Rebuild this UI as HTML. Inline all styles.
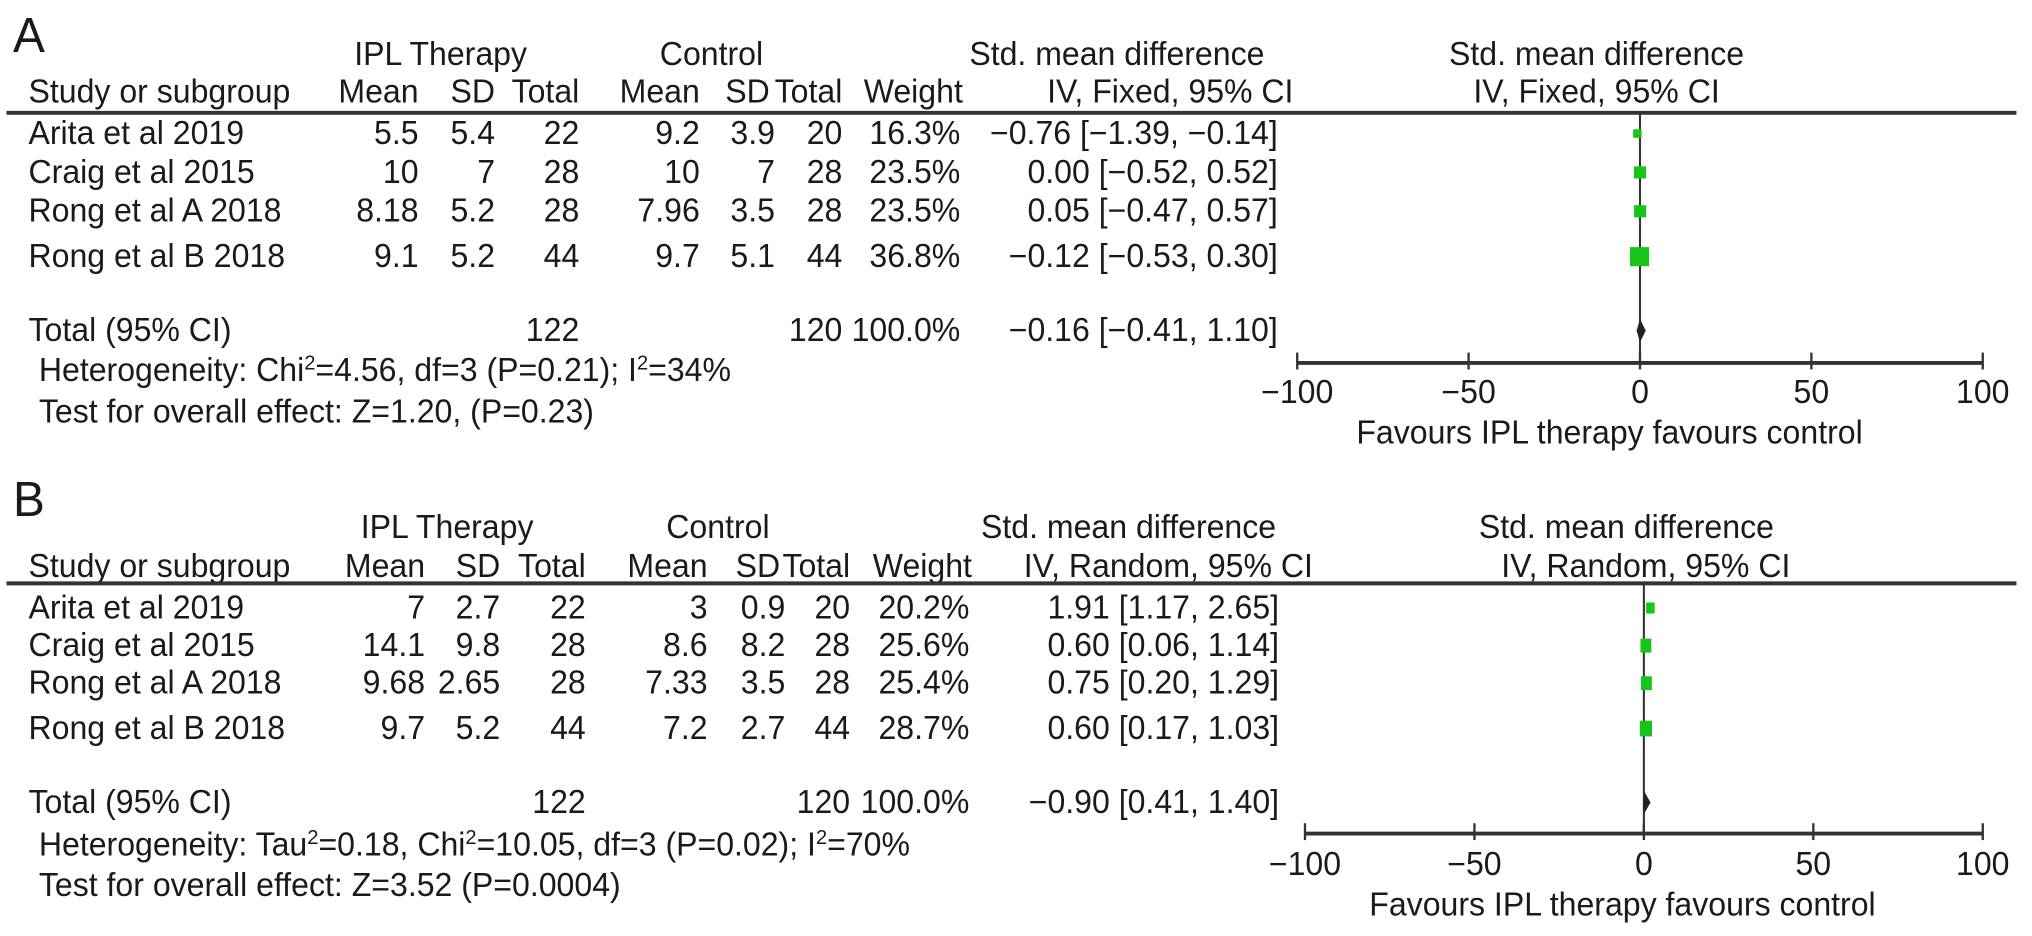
<!DOCTYPE html>
<html><head><meta charset="utf-8"><style>
html,body{margin:0;padding:0;background:#fff;overflow:hidden;}
svg{display:block;}
text{font-family:"Liberation Sans",Arial,sans-serif;font-size:25.5px;fill:#1a1a1a;}
</style></head><body>
<svg id="chart" width="2032" height="936" viewBox="0 0 1568 722" preserveAspectRatio="none" xmlns="http://www.w3.org/2000/svg"></svg>
<script>
const studies = ["Arita et al 2019","Craig et al 2015","Rong et al A 2018","Rong et al B 2018"];
// Panel A
const aIplMean = ["5.5","10","8.18","9.1"];
const aIplSD = ["5.4","7","5.2","5.2"];
const aIplN = [22,28,28,44];
const aCtlMean = ["9.2","10","7.96","9.7"];
const aCtlSD = ["3.9","7","3.5","5.1"];
const aCtlN = [20,28,28,44];
const aWeight = [16.3,23.5,23.5,36.8];
const aEst = [-0.76,0.00,0.05,-0.12];
const aLo = [-1.39,-0.52,-0.47,-0.53];
const aHi = [-0.14,0.52,0.57,0.30];
const aTotal = {est:-0.16, lo:-0.41, hi:1.10};
// Panel B
const bIplMean = ["7","14.1","9.68","9.7"];
const bIplSD = ["2.7","9.8","2.65","5.2"];
const bIplN = [22,28,28,44];
const bCtlMean = ["3","8.6","7.33","7.2"];
const bCtlSD = ["0.9","8.2","3.5","2.7"];
const bCtlN = [20,28,28,44];
const bWeight = [20.2,25.6,25.4,28.7];
const bEst = [1.91,0.60,0.75,0.60];
const bLo = [1.17,0.06,0.20,0.17];
const bHi = [2.65,1.14,1.29,1.03];
const bTotal = {est:-0.90, lo:0.41, hi:1.40};
const axisTicks = [-100,-50,0,50,100];

const NS="http://www.w3.org/2000/svg";
const svg=document.getElementById('chart');
const SX=0.97;
function el(tag,attrs,parent){const e=document.createElementNS(NS,tag);for(const k in attrs)e.setAttribute(k,attrs[k]);(parent||svg).appendChild(e);return e;}
function txt(x,y,s,anchor,name,size){const t=el('text',{x:x/SX,y:y,'text-anchor':anchor||'start',transform:'scale('+SX+',1)'});if(size)t.style.fontSize=size+'px';t.textContent=s;


return t;}
function fmt(v){return (v<0?'\u2212':'')+Math.abs(v).toFixed(2);}
function ci(e,l,h){return fmt(e)+' ['+fmt(l)+', '+fmt(h)+']';}

function panel(o){
  const g=el('g',{});
  
  
  const Y=o.y;
  const t=(x,y,s,a,n,sz)=>{const e=txt(x,y,s,a,n,sz);g.appendChild(e);return e;};
  t(10,Y.letter,o.letter,'start','panel-letter',38);
  t(o.c.iplC,Y.h1,'IPL Therapy','middle','ipl-therapy-header');
  t(o.c.ctlC,Y.h1,'Control','middle','control-header');
  t(o.c.smdL1,Y.h1,'Std. mean difference','start','smd-header');
  t(o.c.rhC,Y.h1,'Std. mean difference','middle','plot-smd-header');
  t(22,Y.h2,'Study or subgroup','start','study-header');
  t(o.c.m1,Y.h2,'Mean','end','ipl-mean-header');
  t(o.c.s1,Y.h2,'SD','end','ipl-sd-header');
  t(o.c.n1,Y.h2,'Total','end','ipl-total-header');
  t(o.c.m2,Y.h2,'Mean','end','control-mean-header');
  t(o.c.s2-4,Y.h2,'SD','end','control-sd-header');
  t(o.c.n2,Y.h2,'Total','end','control-total-header');
  t(o.c.w+2,Y.h2,'Weight','end','weight-header');
  t(o.c.smdL2,Y.h2,o.method,'start','method-header');
  t(o.c.rhC2,Y.h2,o.method,'middle','plot-method-header');
  const r=el('line',{x1:5,x2:1556,y1:Y.rule,y2:Y.rule,stroke:'#333','stroke-width':3},g);
  
  
  const xs=v=>o.ax.x0+(v-axisTicks[0])/(axisTicks[axisTicks.length-1]-axisTicks[0])*(o.ax.x1-o.ax.x0);
  const z=el('line',{x1:xs(0),x2:xs(0),y1:Y.rule,y2:Y.axis,stroke:'#333','stroke-width':1.6},g);
  
  
  for(let i=0;i<studies.length;i++){
    const y=Y.rows[i];
    t(22,y,studies[i],'start','study-name');
    t(o.c.m1,y,o.d.m1[i],'end','ipl-mean');
    t(o.c.s1,y,o.d.s1[i],'end','ipl-sd');
    t(o.c.n1,y,String(o.d.n1[i]),'end','ipl-total');
    t(o.c.m2,y,o.d.m2[i],'end','control-mean');
    t(o.c.s2,y,o.d.s2[i],'end','control-sd');
    t(o.c.n2,y,String(o.d.n2[i]),'end','control-total');
    t(o.c.w,y,o.d.w[i].toFixed(1)+'%','end','weight');
    t(o.c.ci,y,ci(o.d.e[i],o.d.lo[i],o.d.hi[i]),'end','smd-ci');
    const cy=y-8;
    const l=el('line',{x1:xs(o.d.lo[i]),x2:xs(o.d.hi[i]),y1:cy,y2:cy,stroke:'#333','stroke-width':1.2},g);
    
    
    const s=o.d.w[i]*o.sz;
    const sq=el('rect',{x:xs(o.d.e[i])-s*o.asp/2,y:cy-s/2,width:s*o.asp,height:s,fill:'#16c41a'},g);
    
    
  }
  const ty=Y.total;
  t(22,ty,'Total (95% CI)','start','total-label');
  t(o.c.n1,ty,String(o.d.n1.reduce((a,b)=>a+b,0)),'end','ipl-total-sum');
  t(o.c.n2,ty,String(o.d.n2.reduce((a,b)=>a+b,0)),'end','control-total-sum');
  t(o.c.w,ty,'100.0%','end','weight-total');
  t(o.c.ci,ty,ci(o.d.T.est,o.d.T.lo,o.d.T.hi),'end','total-smd-ci');
  const dy=ty-8, dc=xs(0);
  const dm=el('polygon',{points:[xs(o.d.T.lo)-1.5+','+dy, dc+','+(dy-9), xs(o.d.T.hi)+1.5+','+dy, dc+','+(dy+9)].join(' '),fill:'#222'},g);
  
  
  const h=t(30,Y.het,'', 'start','heterogeneity-text');
  o.het.forEach(p=>{const ts=document.createElementNS(NS,'tspan');ts.textContent=p[0];
    if(p[1]==='sup'){ts.setAttribute('dy','-9');ts.style.fontSize='16px';}
    else if(p[1]==='down'){ts.setAttribute('dy','9');}
    h.appendChild(ts);});
  t(30,Y.test,o.test,'start','overall-effect-text');
  const ax=el('line',{x1:o.ax.x0,x2:o.ax.x1,y1:Y.axis,y2:Y.axis,stroke:'#333','stroke-width':3},g);
  
  
  axisTicks.forEach(v=>{
    const tk=el('line',{x1:xs(v),x2:xs(v),y1:Y.axis-8,y2:Y.axis+5,stroke:'#333','stroke-width':1.8},g);
    
    
    t(xs(v),Y.tick,(v<0?'\u2212':'')+Math.abs(v),'middle','x-tick-label');
  });
  t(o.ax.favC,Y.fav,'Favours IPL therapy favours control','middle','x-axis-title');
}

panel({letter:'A',method:'IV, Fixed, 95% CI',sz:0.4,asp:1,
 y:{letter:40,h1:50,h2:79,rule:87,rows:[111,141,171,206],total:263,het:294,test:326,axis:280,tick:311,fav:342},
 c:{iplC:340,ctlC:549,smdL1:748,rhC:1232,smdL2:808,rhC2:1232,m1:323,s1:382,n1:447,m2:540,s2:598,n2:650,w:741,ci:986},
 ax:{x0:1001,x1:1530,favC:1242},
 d:{m1:aIplMean,s1:aIplSD,n1:aIplN,m2:aCtlMean,s2:aCtlSD,n2:aCtlN,w:aWeight,e:aEst,lo:aLo,hi:aHi,T:aTotal},
 het:[['Heterogeneity: Chi'],['2','sup'],['=4.56, df=3 (P=0.21); I','down'],['2','sup'],['=34%','down']],
 test:'Test for overall effect: Z=1.20, (P=0.23)'});

panel({letter:'B',method:'IV, Random, 95% CI',sz:0.42,asp:0.78,
 y:{letter:398,h1:415,h2:445,rule:450,rows:[477,506,535,570],total:627,het:660,test:691,axis:643,tick:675,fav:706},
 c:{iplC:345,ctlC:554,smdL1:757,rhC:1255,smdL2:790,rhC2:1270,m1:328,s1:386,n1:452,m2:546,s2:606,n2:656,w:748,ci:987},
 ax:{x0:1007,x1:1530,favC:1252},
 d:{m1:bIplMean,s1:bIplSD,n1:bIplN,m2:bCtlMean,s2:bCtlSD,n2:bCtlN,w:bWeight,e:bEst,lo:bLo,hi:bHi,T:bTotal},
 het:[['Heterogeneity: Tau'],['2','sup'],['=0.18, Chi','down'],['2','sup'],['=10.05, df=3 (P=0.02); I','down'],['2','sup'],['=70%','down']],
 test:'Test for overall effect: Z=3.52 (P=0.0004)'});
</script>
</body></html>
